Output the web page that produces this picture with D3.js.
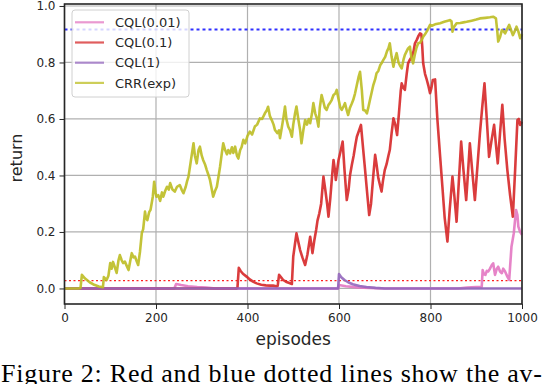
<!DOCTYPE html>
<meta charset="utf-8">
<head>
    <script src="https://d3js.org/d3.v7.min.js"></script>
    <style>
        body { margin: 0; background: white; }
        svg { display: block; }
    </style>
</head>
<body>
<div id="chart"></div>
<script>
    // x ticks and y ticks
    const xTicks = [0, 200, 400, 600, 800, 1000];
    const yTicks = [0.0, 0.2, 0.4, 0.6, 0.8, 1.0];

    // reference (dotted) levels
    const blueLevel = 0.917;
    const redLevel = 0.028;

    // CQL(0.01)
    const cql001Ep = [0, 240, 244, 255, 270, 290, 310, 330, 598, 600, 615, 640, 680, 700, 860, 880, 900, 912, 914, 917, 920, 923, 926, 930, 934, 937, 941, 945, 948, 952, 956, 959, 963, 968, 972, 974, 977, 982, 987, 990, 992, 996, 1000];
    const cql001Val = [0, 0, 0.016, 0.012, 0.008, 0.005, 0.003, 0, 0, 0.012, 0.008, 0.004, 0.001, 0, 0, 0.003, 0.005, 0.006, 0.065, 0.05, 0.048, 0.062, 0.06, 0.07, 0.083, 0.089, 0.048, 0.07, 0.077, 0.06, 0.054, 0.07, 0.06, 0.042, 0.03, 0.077, 0.148, 0.195, 0.278, 0.26, 0.219, 0.2, 0.19];

    // CQL(0.1)
    const cql01Ep = [0, 376, 378, 381, 385, 390, 398, 405, 412, 420, 430, 440, 450, 456, 463, 466, 469, 473, 478, 484, 490, 497, 500, 504, 507, 511, 515, 520, 526, 531, 537, 540, 542, 546, 550, 553, 557, 561, 566, 570, 574, 577, 581, 585, 588, 591, 593, 596, 599, 604, 608, 612, 617, 621, 624, 628, 632, 636, 639, 644, 648, 653, 657, 662, 666, 670, 675, 679, 682, 686, 689, 693, 696, 700, 704, 708, 711, 715, 719, 723, 727, 731, 735, 737, 741, 744, 748, 751, 755, 759, 763, 766, 770, 774, 777, 780, 782, 784, 788, 792, 795, 799, 802, 805, 810, 815, 820, 826, 831, 837, 842, 848, 852, 857, 862, 867, 872, 878, 882, 886, 891, 897, 902, 908, 913, 918, 923, 928, 933, 939, 943, 947, 952, 957, 962, 968, 974, 980, 985, 990, 993, 996, 1000];
    const cql01Val = [0, 0, 0.002, 0.073, 0.062, 0.052, 0.042, 0.032, 0.024, 0.018, 0.013, 0.011, 0.01, 0.01, 0.008, 0.009, 0.048, 0.04, 0.03, 0.024, 0.02, 0.016, 0.113, 0.16, 0.195, 0.165, 0.136, 0.11, 0.083, 0.12, 0.183, 0.15, 0.125, 0.17, 0.207, 0.24, 0.266, 0.3, 0.396, 0.35, 0.3, 0.254, 0.32, 0.4, 0.455, 0.42, 0.384, 0.42, 0.455, 0.49, 0.52, 0.42, 0.313, 0.35, 0.4, 0.437, 0.47, 0.51, 0.537, 0.56, 0.579, 0.49, 0.42, 0.33, 0.26, 0.3, 0.4, 0.473, 0.44, 0.39, 0.37, 0.343, 0.38, 0.419, 0.44, 0.47, 0.49, 0.55, 0.602, 0.58, 0.543, 0.62, 0.7, 0.726, 0.71, 0.703, 0.76, 0.797, 0.81, 0.82, 0.84, 0.868, 0.88, 0.895, 0.903, 0.9, 0.856, 0.797, 0.76, 0.738, 0.72, 0.691, 0.71, 0.738, 0.74, 0.6, 0.49, 0.36, 0.25, 0.166, 0.28, 0.396, 0.33, 0.236, 0.38, 0.52, 0.42, 0.313, 0.41, 0.514, 0.42, 0.313, 0.42, 0.549, 0.64, 0.726, 0.6, 0.466, 0.52, 0.579, 0.51, 0.443, 0.55, 0.65, 0.53, 0.419, 0.33, 0.254, 0.42, 0.596, 0.6, 0.579, 0.59];

    // CQL(1)
    const cql1Ep = [0, 598, 600, 605, 612, 620, 630, 645, 660, 680, 700, 1000];
    const cql1Val = [0, 0, 0.051, 0.04, 0.03, 0.022, 0.015, 0.009, 0.005, 0.002, 0, 0];

    // CRR(exp)
    const crrEp = [0, 30, 35, 38, 45, 55, 65, 75, 84, 86, 92, 96, 100, 103, 106, 110, 114, 118, 121, 125, 128, 132, 136, 140, 144, 147, 151, 154, 158, 161, 165, 169, 172, 176, 178, 181, 185, 188, 193, 196, 199, 201, 205, 209, 213, 216, 220, 224, 228, 231, 236, 241, 246, 252, 256, 260, 265, 268, 271, 276, 282, 285, 289, 293, 296, 300, 303, 307, 311, 315, 318, 322, 325, 329, 333, 337, 340, 344, 347, 351, 355, 358, 362, 366, 369, 373, 377, 380, 384, 387, 391, 395, 400, 405, 410, 416, 421, 427, 432, 438, 442, 445, 449, 453, 457, 460, 465, 469, 471, 475, 479, 482, 485, 489, 493, 497, 500, 504, 507, 511, 515, 518, 522, 526, 530, 534, 537, 541, 544, 548, 552, 555, 558, 562, 566, 569, 573, 577, 580, 584, 588, 592, 595, 599, 603, 606, 610, 613, 617, 620, 624, 628, 631, 635, 639, 643, 646, 650, 653, 657, 661, 664, 668, 671, 675, 679, 682, 686, 690, 694, 697, 701, 705, 708, 711, 715, 719, 722, 726, 730, 733, 737, 741, 744, 748, 751, 755, 758, 762, 766, 769, 773, 777, 781, 784, 788, 792, 795, 799, 803, 810, 821, 830, 838, 843, 846, 848, 851, 857, 865, 872, 879, 890, 900, 908, 920, 930, 937, 943, 946, 948, 952, 956, 960, 963, 968, 972, 976, 980, 984, 988, 992, 996, 1000];
    const crrVal = [0, 0, 0.002, 0.048, 0.035, 0.022, 0.013, 0.007, 0.004, 0.04, 0.03, 0.045, 0.09, 0.07, 0.094, 0.075, 0.055, 0.1, 0.118, 0.1, 0.09, 0.095, 0.08, 0.065, 0.1, 0.125, 0.11, 0.113, 0.095, 0.083, 0.13, 0.196, 0.21, 0.272, 0.25, 0.242, 0.27, 0.278, 0.325, 0.378, 0.34, 0.325, 0.33, 0.31, 0.34, 0.325, 0.345, 0.36, 0.35, 0.373, 0.35, 0.343, 0.36, 0.366, 0.35, 0.337, 0.36, 0.38, 0.396, 0.45, 0.514, 0.47, 0.443, 0.49, 0.502, 0.47, 0.455, 0.44, 0.419, 0.4, 0.384, 0.35, 0.325, 0.345, 0.36, 0.4, 0.431, 0.48, 0.514, 0.49, 0.475, 0.49, 0.478, 0.5, 0.48, 0.502, 0.47, 0.46, 0.49, 0.5, 0.526, 0.514, 0.54, 0.555, 0.545, 0.573, 0.58, 0.602, 0.6, 0.62, 0.63, 0.643, 0.61, 0.596, 0.58, 0.561, 0.55, 0.56, 0.532, 0.57, 0.61, 0.644, 0.6, 0.573, 0.56, 0.537, 0.58, 0.62, 0.644, 0.6, 0.56, 0.514, 0.56, 0.596, 0.58, 0.6, 0.585, 0.62, 0.656, 0.62, 0.6, 0.573, 0.64, 0.685, 0.66, 0.64, 0.632, 0.65, 0.656, 0.667, 0.685, 0.69, 0.703, 0.67, 0.64, 0.632, 0.645, 0.656, 0.63, 0.614, 0.64, 0.655, 0.667, 0.69, 0.72, 0.75, 0.767, 0.7, 0.632, 0.63, 0.62, 0.64, 0.67, 0.691, 0.72, 0.74, 0.762, 0.77, 0.79, 0.8, 0.809, 0.82, 0.84, 0.85, 0.868, 0.82, 0.785, 0.81, 0.833, 0.8, 0.79, 0.779, 0.81, 0.827, 0.84, 0.85, 0.856, 0.82, 0.797, 0.83, 0.85, 0.868, 0.87, 0.88, 0.891, 0.9, 0.91, 0.92, 0.933, 0.93, 0.935, 0.939, 0.944, 0.948, 0.95, 0.945, 0.909, 0.925, 0.939, 0.94, 0.942, 0.944, 0.948, 0.952, 0.956, 0.958, 0.96, 0.962, 0.956, 0.91, 0.874, 0.89, 0.915, 0.91, 0.903, 0.92, 0.933, 0.915, 0.897, 0.91, 0.927, 0.91, 0.886, 0.9];

    const seriesNames = ["CQL(0.01)", "CQL(0.1)", "CQL(1)", "CRR(exp)"];
    const seriesColors = ["#e377c2", "#d62728", "#9467bd", "#bcbd22"];

    const series = [
        { name: seriesNames[0], color: seriesColors[0], ep: cql001Ep, val: cql001Val },
        { name: seriesNames[1], color: seriesColors[1], ep: cql01Ep, val: cql01Val },
        { name: seriesNames[2], color: seriesColors[2], ep: cql1Ep, val: cql1Val },
        { name: seriesNames[3], color: seriesColors[3], ep: crrEp, val: crrVal }
    ];

    const svg = d3.select("#chart").append("svg")
        .attr("width", 546)
        .attr("height", 384);

    const x = d3.scaleLinear()
        .domain([0, 1000])
        .range([64.5, 522]);

    const y = d3.scaleLinear()
        .domain([-0.055, 1.007])
        .range([304, 4]);

    // grid
    svg.append("g").selectAll("line")
        .data(xTicks)
        .join("line")
        .attr("x1", d => x(d)).attr("x2", d => x(d))
        .attr("y1", 4).attr("y2", 304)
        .attr("stroke", "#b0b0b0")
        .attr("stroke-width", 1.2);

    svg.append("g").selectAll("line")
        .data(yTicks)
        .join("line")
        .attr("x1", 64.5).attr("x2", 522)
        .attr("y1", d => y(d)).attr("y2", d => y(d))
        .attr("stroke", "#b0b0b0")
        .attr("stroke-width", 1.2);

    const plot = svg.append("g");

    const line = d3.line()
        .x(d => x(d[0]))
        .y(d => y(d[1]));

    // dotted reference lines
    plot.append("line")
        .attr("x1", x(0)).attr("x2", x(1000))
        .attr("y1", y(redLevel)).attr("y2", y(redLevel))
        .attr("stroke", "#ff2020")
        .attr("stroke-width", 1.3)
        .attr("stroke-dasharray", "2,2.5");

    plot.append("line")
        .attr("x1", x(0)).attr("x2", x(1000))
        .attr("y1", y(blueLevel)).attr("y2", y(blueLevel))
        .attr("stroke", "#3030ff")
        .attr("stroke-width", 2)
        .attr("stroke-dasharray", "3,3");

    series.forEach(s => {
        plot.append("path")
            .datum(s.ep.map((e, i) => [e, s.val[i]]))
            .attr("fill", "none")
            .attr("stroke", s.color)
            .attr("stroke-width", 2.6)
            .attr("stroke-linejoin", "round")
            .attr("stroke-opacity", 0.9)
            .attr("d", line);
    });

    // axes
    const bottomAxis = d3.axisBottom(x)
        .tickValues(xTicks)
        .tickFormat(d3.format("d"))
        .tickSize(5)
        .tickPadding(4);

    const leftAxis = d3.axisLeft(y)
        .tickValues(yTicks)
        .tickFormat(d3.format(".1f"))
        .tickSize(5)
        .tickPadding(4);

    const gx = svg.append("g")
        .attr("transform", "translate(0, 304)")
        .call(bottomAxis);
    const gy = svg.append("g")
        .attr("transform", "translate(64.5, 0)")
        .call(leftAxis);

    [gx, gy].forEach(g => {
        g.select(".domain").remove();
        g.selectAll("line").attr("stroke", "#262626").attr("stroke-width", 1);
        g.selectAll("text")
            .attr("fill", "#262626")
            .style("font-family", "DejaVu Sans")
            .style("font-size", "12px");
    });

    // frame
    svg.append("rect")
        .attr("x", 64.5).attr("y", 4)
        .attr("width", 522 - 64.5).attr("height", 300)
        .attr("fill", "none")
        .attr("stroke", "#262626")
        .attr("stroke-width", 1.6);

    // axis labels
    svg.append("text")
        .attr("x", x(500))
        .attr("y", 345)
        .attr("text-anchor", "middle")
        .style("font-family", "DejaVu Sans")
        .style("font-size", "17px")
        .attr("fill", "#262626")
        .text("episodes");

    svg.append("text")
        .attr("transform", "translate(22, 158) rotate(-90)")
        .attr("text-anchor", "middle")
        .style("font-family", "DejaVu Sans")
        .style("font-size", "16px")
        .attr("fill", "#262626")
        .text("return");

    // legend
    const legend = svg.append("g")
        .attr("transform", "translate(72, 10)");

    legend.append("rect")
        .attr("width", 117)
        .attr("height", 87)
        .attr("rx", 3)
        .attr("fill", "white")
        .attr("fill-opacity", 0.8)
        .attr("stroke", "#d0d0d0");

    legend.selectAll("line")
        .data(series)
        .join("line")
        .attr("x1", 3).attr("x2", 32)
        .attr("y1", (d, i) => 12.3 + i * 20.2)
        .attr("y2", (d, i) => 12.3 + i * 20.2)
        .attr("stroke", d => d.color)
        .attr("stroke-opacity", 0.75)
        .attr("stroke-width", 2.2);

    legend.selectAll("text")
        .data(series)
        .join("text")
        .attr("x", 43)
        .attr("y", (d, i) => 17 + i * 20.2)
        .style("font-family", "DejaVu Sans")
        .style("font-size", "13px")
        .attr("fill", "#262626")
        .text(d => d.name);

    // caption
    svg.append("text")
        .attr("x", 1)
        .attr("y", 382)
        .attr("textLength", 541)
        .attr("lengthAdjust", "spacing")
        .style("font-family", "'Liberation Serif'")
        .style("font-size", "26px")
        .attr("fill", "black")
        .text("Figure 2: Red and blue dotted lines show the av-");
</script>
</body>
